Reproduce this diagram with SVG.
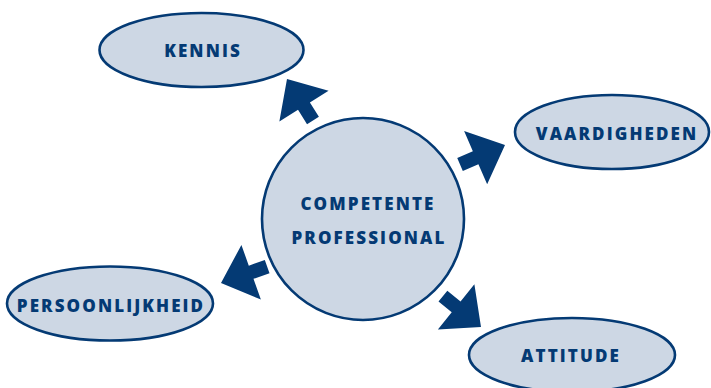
<svg xmlns="http://www.w3.org/2000/svg" width="711" height="388" viewBox="0 0 711 388">
<style>
.n{fill:#cdd7e4;stroke:#043a74;stroke-width:2.6}
.t{font-family:"Open Sans","DejaVu Sans",sans-serif;font-weight:800;font-size:17px;letter-spacing:2.1px;fill:#043a74;text-anchor:middle}
.a{fill:#043a74}
</style>
<defs>
<polygon id="arr" points="0,0 -32,-29 -32,-7 -49,-7 -49,7 -32,7 -32,29"/>
</defs>
<rect width="711" height="388" fill="#fff"/>
<g id="connectors" class="a">
<use href="#arr" transform="translate(287,79) rotate(-122)"/>
<use href="#arr" transform="translate(505,145) rotate(-23.4)"/>
<use href="#arr" transform="translate(221,283) rotate(160.4)"/>
<use href="#arr" transform="translate(481,327) rotate(39)"/>
</g>
<g id="center">
<circle class="n" cx="363" cy="219" r="101"/>
<text class="t" x="368" y="210">COMPETENTE</text>
<text class="t" x="369" y="244">PROFESSIONAL</text>
</g>
<g id="kennis">
<ellipse class="n" cx="201.5" cy="50" rx="102" ry="37"/>
<text class="t" x="203" y="57">KENNIS</text>
</g>
<g id="vaardigheden">
<ellipse class="n" cx="612" cy="132" rx="97" ry="37"/>
<text class="t" x="617" y="140">VAARDIGHEDEN</text>
</g>
<g id="persoonlijkheid">
<ellipse class="n" cx="110" cy="303.5" rx="103" ry="37"/>
<text class="t" x="111" y="312">PERSOONLIJKHEID</text>
</g>
<g id="attitude">
<ellipse class="n" cx="572" cy="355" rx="103" ry="37"/>
<text class="t" x="571" y="362">ATTITUDE</text>
</g>
</svg>
